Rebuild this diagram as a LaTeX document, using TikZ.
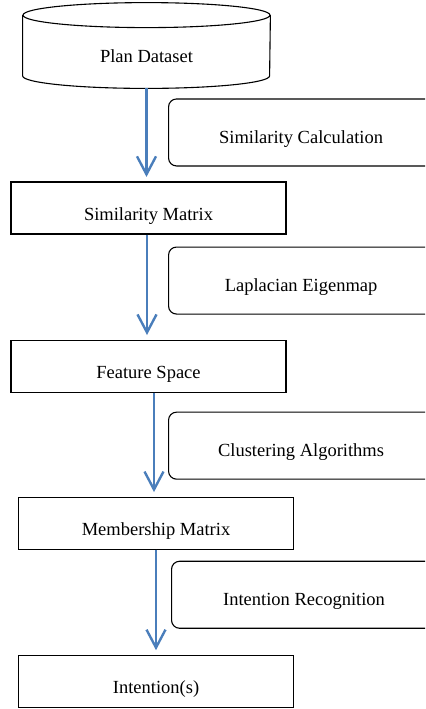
\documentclass[tikz,border=0pt]{standalone}
\usepackage{fontspec}
\setmainfont{Liberation Serif}
\usetikzlibrary{arrows.meta, positioning}
\definecolor{flowblue}{RGB}{74,126,187}
\tikzset{
  dbnode/.style={
    rectangle, inner sep=0pt,
    minimum width=123.5pt, minimum height=42.5pt,
    text height=16.5pt, text depth=0pt,
    font=\fontsize{9.25}{11}\selectfont
  },
  databox/.style={
    rectangle, draw, line width=0.55pt, inner sep=0pt,
    minimum width=137.5pt, minimum height=26pt,
    text height=12.5pt, text depth=0pt,
    font=\fontsize{9.25}{11}\selectfont
  },
  stepnote/.style={
    rectangle, rounded corners=4pt, draw, line width=0.55pt, inner sep=0pt,
    minimum width=132.5pt, minimum height=33.5pt,
    text height=11pt, text depth=0pt,
    font=\fontsize{9.25}{11}\selectfont
  },
  flowarrow/.style={-{Straight Barb[length=9pt,width=9.5pt]},
    line width=1.2pt, draw=flowblue, shorten >=2.25pt},
}
\begin{document}
\begin{tikzpicture}[x=0.5pt,y=-0.5pt]
  \useasboundingbox (0,0) rectangle (425,709);
  \clip (0,0) rectangle (425,709);
  \node[dbnode] (plan) at (146.5,45.5) {Plan Dataset};
  \draw[line width=0.55pt] ([yshift=-6.25pt]plan.north) ellipse [x radius=61.75pt, y radius=6.25pt];
  \draw[line width=0.55pt] ([yshift=-6.25pt]plan.north west) -- ([yshift=6.25pt]plan.south west)
    arc[start angle=180, end angle=360, x radius=61.75pt, y radius=6.25pt]
    -- ([yshift=-6.25pt]plan.north east);
  \node[databox,below=46.5pt of plan,xshift=1pt] (simmat) {Similarity Matrix};
  \node[databox,below=52.5pt of simmat] (feat) {Feature Space};
  \node[databox,below=52pt of feat,xshift=3.75pt] (memb) {Membership Matrix};
  \node[databox,below=52.5pt of memb] (intent) {Intention(s)};
  \node[stepnote,below right=5pt and 10.75pt of plan.south] (simcalc) {Similarity Calculation};
  \node[stepnote,below right=6pt and 9.75pt of simmat.south] (lapeig) {Laplacian Eigenmap};
  \node[stepnote,below right=9.5pt and 9.75pt of feat.south] (clust) {Clustering Algorithms};
  \node[stepnote,below right=5.5pt and 7.5pt of memb.south] (intrec) {Intention Recognition};
  \draw[flowarrow] (plan.south) -- (plan.south |- simmat.north);
  \draw[flowarrow] ([xshift=-0.75pt]simmat.south) -- ([xshift=-0.75pt]simmat.south |- feat.north);
  \draw[flowarrow] ([xshift=2.75pt]feat.south) -- ([xshift=2.75pt]feat.south |- memb.north);
  \draw[flowarrow] (memb.south) -- (intent.north);
\end{tikzpicture}
\end{document}
